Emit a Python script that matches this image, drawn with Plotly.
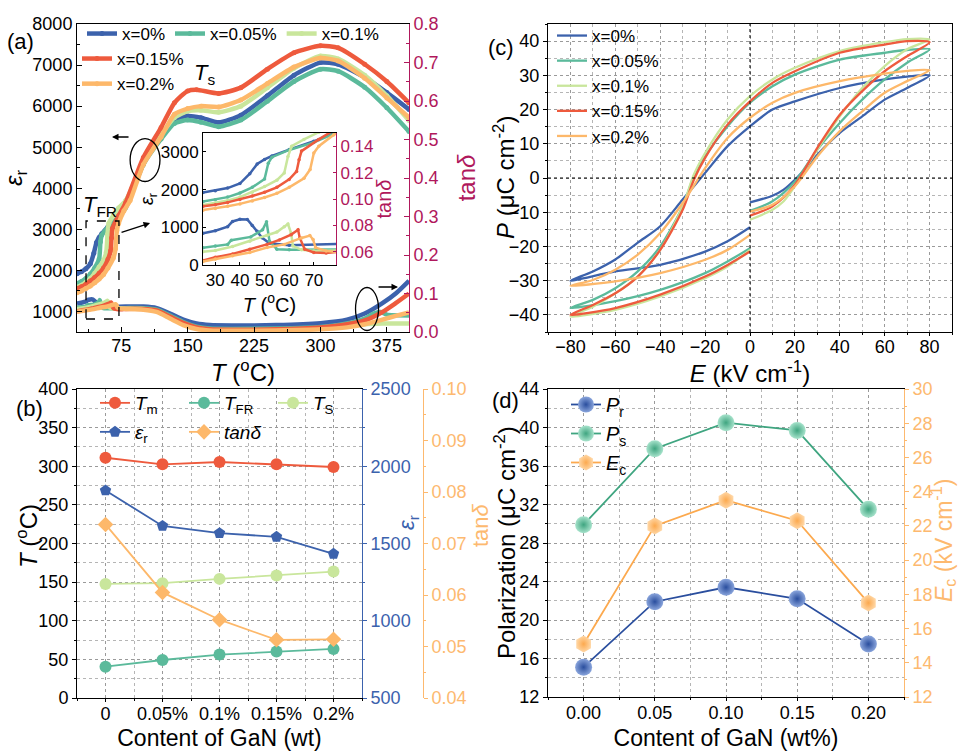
import plotly.graph_objects as go

FONT = "Liberation Sans, Arial, sans-serif"
W, H = 959, 751

# ---------------- colours ----------------
BLUE, TEAL, LGREEN, RED, ORANGE = '#3C62AC', '#5BBA9B', '#C9E69C', '#EE5A3D', '#FDB86A'
CRIMSON = '#B0185C'
AX_ORANGE = '#FDB96F'
AX_BLUE = '#3B62AD'

# ---------------- panel (a): dielectric data ----------------
series_names = ['x=0%', 'x=0.05%', 'x=0.1%', 'x=0.15%', 'x=0.2%']
series_colors = [BLUE, TEAL, LGREEN, RED, ORANGE]

T_eps_0 = [25, 30, 35, 40, 44, 47, 50, 53, 60, 70, 80, 100, 120, 135, 150, 165, 185, 210, 240, 270, 300, 320, 350, 375, 400]
eps_0 = [1920, 1970, 2040, 2160, 2420, 2680, 2800, 2890, 3060, 3280, 3550, 4600, 5250, 5650, 5760, 5720, 5600, 5780, 6250, 6750, 7060, 7020, 6700, 6330, 5920]

T_eps_005 = [25, 30, 35, 40, 45, 50, 51.5, 53, 60, 70, 80, 100, 120, 135, 150, 165, 185, 210, 240, 270, 300, 320, 350, 375, 400]
eps_005 = [1680, 1730, 1800, 1910, 2060, 2280, 2700, 2860, 3050, 3250, 3530, 4580, 5200, 5580, 5660, 5610, 5500, 5660, 6120, 6600, 6900, 6850, 6460, 5960, 5380]

T_eps_01 = [25, 30, 35, 40, 45, 50, 55, 58, 59.5, 61, 66, 72, 80, 100, 120, 135, 150, 165, 185, 210, 240, 270, 300, 320, 350, 375, 400]
eps_01 = [1590, 1640, 1710, 1800, 1930, 2080, 2250, 2440, 2880, 3150, 3330, 3520, 3700, 4620, 5300, 5720, 5880, 5900, 5850, 6000, 6450, 6920, 7220, 7150, 6750, 6250, 5650]

T_eps_015 = [25, 30, 35, 40, 45, 50, 55, 60, 63, 64, 65, 72, 80, 100, 120, 135, 150, 160, 185, 210, 240, 270, 300, 320, 350, 375, 400]
eps_015 = [1560, 1600, 1660, 1740, 1830, 1930, 2060, 2270, 2480, 2790, 3020, 3330, 3650, 4750, 5480, 6080, 6370, 6400, 6310, 6450, 6900, 7300, 7470, 7420, 7020, 6600, 6080]

T_eps_02 = [25, 30, 35, 40, 45, 50, 55, 60, 66, 68.5, 70, 72, 78, 85, 100, 120, 135, 150, 165, 185, 210, 240, 270, 300, 320, 350, 375, 400]
eps_02 = [1455, 1500, 1560, 1620, 1700, 1790, 1900, 2060, 2300, 2530, 2970, 3150, 3450, 3700, 4580, 5250, 5800, 5940, 6000, 5980, 6150, 6550, 6950, 7170, 7100, 6680, 6200, 5720]

T_tan_0 = [25, 30, 35, 37, 40, 43, 45, 47, 49, 52, 60, 80, 100, 115, 130, 145, 160, 175, 200, 250, 300, 330, 350, 370, 385, 400]
tan_0 = [0.074, 0.076, 0.079, 0.083, 0.0847, 0.0845, 0.080, 0.0755, 0.0706, 0.0664, 0.065, 0.066, 0.066, 0.062, 0.048, 0.032, 0.022, 0.018, 0.017, 0.018, 0.023, 0.032, 0.048, 0.075, 0.100, 0.133]

T_tan_005 = [25, 30, 35, 36.5, 44.4, 49.2, 50.8, 52, 55, 60, 80, 100, 115, 130, 145, 160, 175, 200, 250, 300, 330, 350, 360, 368, 375, 400]
tan_005 = [0.063, 0.0644, 0.0656, 0.0688, 0.0713, 0.0767, 0.0828, 0.068, 0.062, 0.0615, 0.062, 0.062, 0.058, 0.043, 0.026, 0.014, 0.009, 0.008, 0.009, 0.013, 0.022, 0.035, 0.048, 0.052, 0.045, 0.043]

T_tan_01 = [25, 30, 37, 44, 51, 55, 58, 59.5, 60.8, 61.5, 65, 70, 80, 100, 115, 130, 145, 160, 175, 200, 250, 300, 330, 350, 370, 400]
tan_01 = [0.060, 0.061, 0.064, 0.068, 0.0725, 0.075, 0.079, 0.081, 0.074, 0.0644, 0.0615, 0.0607, 0.061, 0.060, 0.054, 0.038, 0.020, 0.010, 0.006, 0.005, 0.006, 0.009, 0.014, 0.020, 0.022, 0.022]

T_tan_015 = [25, 30, 37, 44, 51, 56, 60.8, 63.6, 64.3, 66.3, 70, 75, 80, 100, 115, 130, 145, 160, 175, 200, 250, 300, 330, 350, 370, 385, 400]
tan_015 = [0.0534, 0.0558, 0.0583, 0.062, 0.0656, 0.069, 0.073, 0.0767, 0.0705, 0.062, 0.0595, 0.059, 0.060, 0.060, 0.056, 0.040, 0.024, 0.012, 0.007, 0.006, 0.007, 0.012, 0.020, 0.030, 0.052, 0.075, 0.100]

T_tan_02 = [25, 30, 37, 44, 51, 58, 65, 68.4, 69.7, 70.7, 75, 80, 100, 115, 130, 145, 160, 175, 200, 250, 300, 330, 350, 370, 385, 400]
tan_02 = [0.0527, 0.0546, 0.057, 0.0595, 0.0632, 0.0656, 0.0705, 0.0723, 0.0693, 0.0632, 0.0607, 0.060, 0.058, 0.052, 0.035, 0.018, 0.008, 0.004, 0.003, 0.004, 0.007, 0.012, 0.020, 0.032, 0.042, 0.051]

eps_T = [T_eps_0, T_eps_005, T_eps_01, T_eps_015, T_eps_02]
eps_V = [eps_0, eps_005, eps_01, eps_015, eps_02]
tan_T = [T_tan_0, T_tan_005, T_tan_01, T_tan_015, T_tan_02]
tan_V = [tan_0, tan_005, tan_01, tan_015, tan_02]

# ---------------- panel (c): P-E loops ----------------
E_0 = [0, 10, 15, 20, 25, 30, 40, 50, 60, 70, 80, 70, 60, 40, 20, 10, 0, -10, -20, -30, -40, -50, -60, -70, -80, -60, -40, -20, -10, 0]
P_0 = [-7.1, -5.2, -3.4, -0.5, 2.9, 6.8, 13.2, 18, 22.9, 26.3, 30, 29.6, 28.8, 26.3, 22.4, 20, 15.1, 9.3, 1.5, -6.3, -14.1, -18.9, -23.8, -27.3, -30, -27.3, -25.4, -21.5, -18.5, -14.4]
E_005 = [0, 10, 20, 30, 40, 50, 60, 70, 80, 70, 60, 40, 20, 10, 0, -10, -20, -25, -30, -40, -50, -60, -70, -80, -60, -40, -20, -10, 0]
P_005 = [-9.6, -6.8, -1, 8.3, 16.1, 22.9, 28.8, 33.7, 37.6, 37.4, 36.6, 34.6, 30.2, 26.8, 22, 15.1, 6.3, 0.5, -8.3, -20, -27.3, -32.2, -35.6, -38, -36, -32.7, -27.8, -24.4, -20.5]
E_01 = [0, 10, 15, 20, 30, 40, 50, 60, 70, 80, 70, 60, 40, 20, 10, 0, -10, -20, -25, -30, -40, -50, -60, -70, -80, -60, -40, -20, -10, 0]
P_01 = [-12.2, -9.3, -6.8, -2.4, 8.3, 18, 26.3, 32.7, 37.6, 40.5, 40.6, 39.7, 37.1, 32.2, 28.8, 23.9, 17.1, 7.3, 1, -8.3, -21, -28.8, -33.7, -37.6, -40.5, -38.5, -34.6, -29.3, -25.9, -21]
E_015 = [0, 10, 20, 30, 40, 50, 60, 70, 80, 70, 60, 40, 20, 10, 0, -10, -20, -25, -30, -40, -50, -60, -70, -80, -60, -40, -20, -10, 0]
P_015 = [-11, -8.3, -2, 8.8, 18.5, 25.4, 31.2, 35.6, 39.7, 40.0, 39, 36.6, 31.2, 27.8, 22.4, 15.6, 5.9, -0.5, -9.3, -21, -28.8, -33.7, -37.1, -40, -38, -34.1, -28.8, -25.4, -21.5]
E_02 = [0, 10, 20, 30, 40, 50, 60, 70, 80, 70, 60, 40, 20, 10, 0, -10, -20, -30, -40, -50, -60, -70, -80, -60, -40, -20, -10, 0]
P_02 = [-9.8, -7.8, -2.4, 6.3, 13.7, 19.5, 24.9, 28.3, 31.5, 31.3, 30.5, 28.3, 24.9, 22, 17.6, 11.7, 2.9, -7.3, -16.1, -22.4, -26.8, -29.8, -31.5, -30.2, -27.8, -23.9, -21, -16.6]
loop_E = [E_0, E_005, E_01, E_015, E_02]
loop_P = [P_0, P_005, P_01, P_015, P_02]

# ---------------- panels (b), (d): summary vs GaN content ----------------
gan_content = [0, 0.05, 0.10, 0.15, 0.20]
gan_labels_b = ['0', '0.05%', '0.1%', '0.15%', '0.2%']
T_m = [311, 302.5, 305.5, 302.5, 299]
T_FR = [40.6, 49.2, 56.2, 60.1, 63.5]
T_S = [147.7, 148.6, 154.2, 158.5, 163.7]
eps_r_peak = [1843, 1614, 1567, 1543, 1433]
tan_d = [0.0737, 0.0605, 0.0552, 0.0513, 0.0514]
P_r = [15.1, 21.9, 23.4, 22.2, 17.5]
P_s = [29.9, 37.8, 40.5, 39.7, 31.5]
E_c = [15.1, 22.0, 23.5, 22.3, 17.5]


def px_x(p):
    return p / W


def px_y(p):
    return 1 - p / H


fig = go.Figure()

# ---- panel (a) traces ----
for i in range(5):
    fig.add_trace(go.Scatter(x=eps_T[i], y=eps_V[i], mode='lines+markers', name=series_names[i],
                             line=dict(color=series_colors[i], width=4.5, shape='spline', smoothing=0.6),
                             marker=dict(size=5, color=series_colors[i]),
                             xaxis='x', yaxis='y', legend='legend' if i < 3 else 'legend2'))
for i in range(5):
    fig.add_trace(go.Scatter(x=tan_T[i], y=tan_V[i], mode='lines', showlegend=False,
                             line=dict(color=series_colors[i], width=4.5, shape='spline', smoothing=0.6),
                             xaxis='x', yaxis='y2'))
# inset
for i in range(5):
    fig.add_trace(go.Scatter(x=eps_T[i], y=eps_V[i], mode='lines+markers', showlegend=False,
                             line=dict(color=series_colors[i], width=2.5),
                             marker=dict(size=3.5, color=series_colors[i]),
                             xaxis='x2', yaxis='y3'))
for i in range(5):
    fig.add_trace(go.Scatter(x=tan_T[i], y=tan_V[i], mode='lines+markers', showlegend=False,
                             line=dict(color=series_colors[i], width=2.5),
                             marker=dict(size=3.5, color=series_colors[i]),
                             xaxis='x2', yaxis='y4'))

# ---- panel (c) ----
for i in range(5):
    fig.add_trace(go.Scatter(x=loop_E[i], y=loop_P[i], mode='lines', name=series_names[i],
                             line=dict(color=series_colors[i], width=2.3, shape='spline', smoothing=0.8),
                             xaxis='x3', yaxis='y5', legend='legend3'))

# ---- panel (b) ----
def b_trace(y, name, color, symbol, yaxis, legend):
    return go.Scatter(x=gan_content, y=y, mode='lines+markers', name=name,
                      line=dict(color=color, width=1.8),
                      marker=dict(symbol=symbol, size=12, color=color, line=dict(width=0)),
                      xaxis='x4', yaxis=yaxis, legend=legend)

fig.add_trace(b_trace(T_m, '<i>T</i><sub>m</sub>', RED, 'circle', 'y6', 'legend4'))
fig.add_trace(b_trace(T_FR, '<i>T</i><sub>FR</sub>', TEAL, 'circle', 'y6', 'legend4'))
fig.add_trace(b_trace(T_S, '<i>T</i><sub>S</sub>', LGREEN, 'circle', 'y6', 'legend4'))
fig.add_trace(b_trace(eps_r_peak, '<i>ε</i><sub>r</sub>', BLUE, 'pentagon', 'y7', 'legend5'))
fig.add_trace(b_trace(tan_d, '<i>tanδ</i>', ORANGE, 'diamond', 'y8', 'legend5'))

# ---- panel (d) ----
def d_trace(y, name, color, light, symbol, yaxis):
    return go.Scatter(x=gan_content, y=y, mode='lines+markers', name=name,
                      line=dict(color=color, width=1.8),
                      marker=dict(symbol=symbol, size=17, color=light,
                                  gradient=dict(type='radial', color=color), line=dict(width=0)),
                      xaxis='x5', yaxis=yaxis, legend='legend6')

fig.add_trace(d_trace(P_r, '<i>P</i><sub>r</sub>', '#2A4E9E', '#8AA5DC', 'circle', 'y9'))
fig.add_trace(d_trace(P_s, '<i>P</i><sub>s</sub>', '#3FA580', '#A8E3CC', 'circle', 'y9'))
fig.add_trace(d_trace(E_c, '<i>E</i><sub>c</sub>', '#FCA94E', '#FFD7A6', 'hexagon', 'y10'))


def ax(**kw):
    base = dict(showline=True, linecolor='black', linewidth=1, ticks='outside', ticklen=5,
                tickwidth=1, tickcolor='black', tickfont=dict(size=18, color='black', family=FONT),
                showgrid=False, zeroline=False, title_font=dict(size=23, color='black', family=FONT))
    base.update(kw)
    return base


GRID = dict(showgrid=True, gridcolor='#9a9a9a', gridwidth=1, griddash='dot')
MGRID = dict(showgrid=True, gridcolor='#b5b5b5', gridwidth=1, griddash='dot')

A_X = [px_x(77), px_x(409)]
A_Y = [px_y(332), px_y(24)]
I_X = [px_x(203), px_x(336)]
I_Y = [px_y(265), px_y(133)]
C_X = [px_x(548), px_x(952)]
B_X = [px_x(77), px_x(362)]
B_Y = [px_y(698), px_y(389)]
D_X = [px_x(548), px_x(904)]
D_Y = [px_y(697), px_y(389)]

fig.update_layout(
    width=W, height=H, margin=dict(l=0, r=0, t=0, b=0, autoexpand=False),
    paper_bgcolor='white', plot_bgcolor='white',
    font=dict(family=FONT, color='black'),
    # (a)
    xaxis=ax(domain=A_X, anchor='y', range=[25, 400], tickvals=[75, 150, 225, 300, 375], ticks='inside',
             mirror=True, minor=dict(dtick=37.5, tick0=0, ticks='inside', ticklen=3), ticklabelstandoff=-3,
             title=dict(text='<i>T</i> (<sup>o</sup>C)', standoff=0, font=dict(size=24))),
    yaxis=ax(domain=A_Y, anchor='x', range=[500, 8000], dtick=1000, tick0=0, ticks='inside',
             minor=dict(dtick=500, ticks='inside', ticklen=3),
             title=dict(text='<i>ε</i><sub>r</sub>', standoff=10, font=dict(size=24))),
    yaxis2=ax(overlaying='y', side='right', anchor='x', range=[0, 0.8], dtick=0.1, ticks='inside',
              linecolor=CRIMSON, tickcolor=CRIMSON, tickfont=dict(size=18, color=CRIMSON),
              tickformat='.1f', minor=dict(dtick=0.05, ticks='inside', ticklen=3, tickcolor=CRIMSON),
              title=dict(text='tan<i>δ</i>', standoff=20, font=dict(size=24, color=CRIMSON))),
    # inset
    xaxis2=ax(domain=I_X, anchor='y3', range=[25, 79], tickvals=[30, 40, 50, 60, 70], mirror=True,
              ticks='inside', ticklen=3, tickfont=dict(size=17),
              title=dict(text='<i>T</i> (<sup>o</sup>C)', standoff=4, font=dict(size=20))),
    yaxis3=ax(domain=I_Y, anchor='x2', range=[0, 3500], dtick=1000, ticks='inside', ticklen=3,
              tickfont=dict(size=17),
              title=dict(text='<i>ε</i><sub>r</sub>', standoff=2, font=dict(size=18))),
    yaxis4=ax(overlaying='y3', side='right', anchor='x2', range=[0.05, 0.15], dtick=0.02, tick0=0.06,
              ticks='inside', ticklen=3, linecolor=CRIMSON, tickcolor=CRIMSON,
              tickfont=dict(size=17, color=CRIMSON), tickformat='.2f',
              title=dict(text='tan<i>δ</i>', standoff=0, font=dict(size=20, color=CRIMSON))),
    # (c)
    xaxis3=ax(domain=C_X, anchor='y5', range=[-90, 90], dtick=20, tick0=0, mirror=True, ticklen=3,
              ticklabelstandoff=-5,
              **GRID, minor=dict(dtick=10, **MGRID, ticks='outside', ticklen=2),
              title=dict(text='<i>E</i> (kV cm<sup>-1</sup>)', standoff=0, font=dict(size=24))),
    yaxis5=ax(domain=A_Y, anchor='x3', range=[-45, 45], dtick=10, tick0=0, mirror=True, ticklen=4,
              **GRID, minor=dict(dtick=5, **MGRID, ticks='outside', ticklen=2)),
    # (b)
    xaxis4=ax(domain=B_X, anchor='y6', range=[-0.025, 0.225], tickvals=gan_content, ticktext=gan_labels_b,
              mirror=True, ticklen=3, ticklabelstandoff=-4,
              **GRID, minor=dict(dtick=0.025, tick0=0, **MGRID, ticks='outside', ticklen=2),
              title=dict(text='Content of GaN (wt)', standoff=8)),
    yaxis6=ax(domain=B_Y, anchor='x4', range=[0, 400], dtick=50, ticklen=4, **GRID,
              minor=dict(dtick=25, **MGRID, ticks='outside', ticklen=2)),
    yaxis7=ax(overlaying='y6', side='right', anchor='x4', range=[500, 2500], dtick=500, ticklen=4,
              linecolor=AX_BLUE, tickcolor=AX_BLUE, tickfont=dict(size=18, color=AX_BLUE),
              minor=dict(dtick=250, ticks='outside', ticklen=2, tickcolor=AX_BLUE)),
    yaxis8=ax(overlaying='y6', side='right', anchor='free', position=px_x(423), range=[0.04, 0.10], dtick=0.01,
              ticklen=4, linecolor=AX_ORANGE, tickcolor=AX_ORANGE, tickfont=dict(size=18, color=AX_ORANGE),
              tickformat='.2f', minor=dict(dtick=0.005, ticks='outside', ticklen=2, tickcolor=AX_ORANGE)),
    # (d)
    xaxis5=ax(domain=D_X, anchor='y9', range=[-0.025, 0.225], dtick=0.05, tick0=0, tickformat='.2f',
              mirror=True, ticklen=3, ticklabelstandoff=-4,
              **GRID, minor=dict(dtick=0.025, tick0=0, **MGRID, ticks='outside', ticklen=2),
              title=dict(text='Content of GaN (wt%)', standoff=8)),
    yaxis9=ax(domain=D_Y, anchor='x5', range=[12, 44], dtick=4, tick0=0, ticklen=4, **GRID,
              minor=dict(dtick=2, **MGRID, ticks='outside', ticklen=2)),
    yaxis10=ax(overlaying='y9', side='right', anchor='x5', range=[12, 30], dtick=2, ticklen=4,
               linecolor=AX_ORANGE, tickcolor=AX_ORANGE, tickfont=dict(size=18, color=AX_ORANGE),
               minor=dict(dtick=1, ticks='outside', ticklen=2, tickcolor=AX_ORANGE)),
    # legends
    legend=dict(x=px_x(82), y=px_y(16), xanchor='left', yanchor='top', orientation='h',
                font=dict(size=17), bgcolor='rgba(0,0,0,0)'),
    legend2=dict(x=px_x(77), y=px_y(41), xanchor='left', yanchor='top', orientation='v',
                 font=dict(size=17), bgcolor='rgba(0,0,0,0)'),
    legend3=dict(x=px_x(552), y=px_y(18), xanchor='left', yanchor='top', orientation='v',
                 font=dict(size=17), bgcolor='rgba(0,0,0,0)'),
    legend4=dict(x=px_x(95), y=px_y(384), xanchor='left', yanchor='top', orientation='h',
                 entrywidth=44, font=dict(size=19), bgcolor='rgba(0,0,0,0)'),
    legend5=dict(x=px_x(95), y=px_y(413), xanchor='left', yanchor='top', orientation='h',
                 entrywidth=44, font=dict(size=19), bgcolor='rgba(0,0,0,0)'),
    legend6=dict(x=px_x(566), y=px_y(385), xanchor='left', yanchor='top', orientation='v',
                 font=dict(size=20), bgcolor='rgba(0,0,0,0)'),
)

# zero lines in (c)
fig.add_shape(type='line', xref='x3', yref='y5', x0=0, x1=0, y0=-45, y1=45,
              line=dict(color='black', width=1, dash='dot'))
fig.add_shape(type='line', xref='x3', yref='y5', x0=-90, x1=90, y0=0, y1=0,
              line=dict(color='black', width=1, dash='dot'))

# (a) ellipses, dashed box, arrows
fig.add_shape(type='circle', xref='x', yref='y', x0=85, x1=118.7, y0=4165, y1=5211,
              line=dict(color='black', width=1.3))
fig.add_shape(type='circle', xref='x', yref='y', x0=339.6, x1=365.6, y0=537, y1=1583,
              line=dict(color='black', width=1.3))
fig.add_shape(type='rect', xref='x', yref='y', x0=35.2, x1=72.4, y0=817, y1=3203,
              line=dict(color='black', width=1.3, dash='dash'))

arrows = [((64.5, 5248), (84.9, 5248)), ((387.6, 1596), (363.9, 1596)), ((107.5, 3154), (73.6, 2911))]
for (hx, hy), (tx, ty) in arrows:
    fig.add_annotation(x=hx, y=hy, ax=tx, ay=ty, xref='x', yref='y', axref='x', ayref='y',
                       showarrow=True, arrowhead=2, arrowsize=1, arrowwidth=1.3, arrowcolor='black', text='')


def label(text, xx, yy, size=22, color='black', angle=0):
    fig.add_annotation(x=px_x(xx), y=px_y(yy), xref='paper', yref='paper', showarrow=False,
                       xanchor='center', yanchor='middle', textangle=angle,
                       text=text, font=dict(size=size, color=color))


label('<i>T</i><sub>s</sub>', 204, 74)
label('<i>T</i><sub>FR</sub>', 100, 206)
label('(a)', 20, 42)
label('(b)', 29, 408)
label('(c)', 501, 47)
label('(d)', 505, 400)
# y-axis titles placed as in the reference
label('<i>P</i> (μC cm<sup>-2</sup>)', 504, 178, size=24, angle=-90)
label('<i>T</i> (<sup>o</sup>C)', 27, 536, size=24, angle=-90)
label('Polarization (μC cm<sup>-2</sup>)', 505, 543, size=24, angle=-90)
label('<i>E</i><sub>c</sub> (kV cm<sup>-1</sup>)', 943, 541, size=23, color=AX_ORANGE, angle=-90)
label('<i>ε</i><sub>r</sub>', 408, 523, color=AX_BLUE, angle=-90)
label('tan<i>δ</i>', 480, 525, color=AX_ORANGE, angle=-90)

fig.write_html('out.html')
